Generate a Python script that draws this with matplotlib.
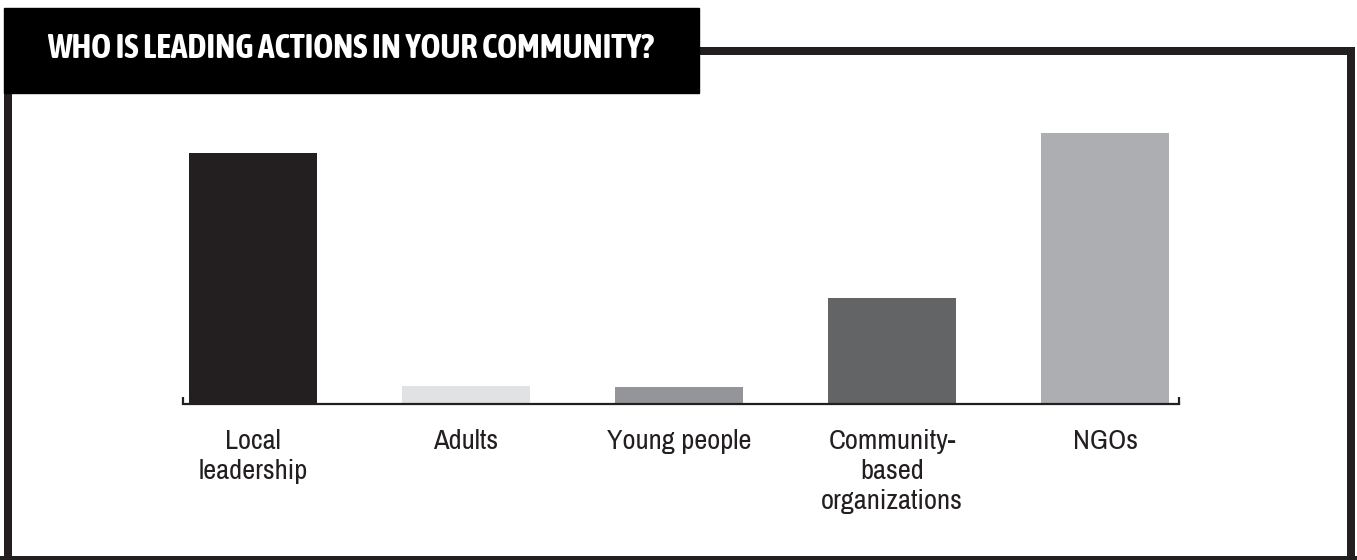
import matplotlib.pyplot as plt
from matplotlib import font_manager as fm
from matplotlib.patches import Rectangle
from matplotlib.lines import Line2D

groups = ["Local\nleadership", "Adults", "Young people",
          "Community-\nbased\norganizations", "NGOs"]
shares = [37.0, 2.7, 2.5, 15.6, 40.0]
bar_colors = ["#231f20", "#e1e2e3", "#939598", "#636466", "#adaeb1"]
title = "WHO IS LEADING ACTIONS IN YOUR COMMUNITY?"

W, H = 1357, 560
ink = "#231f20"


def _weight(f):
    w = f.weight
    if isinstance(w, str):
        w = fm.weight_dict.get(w, 400)
    return w


def narrow_font(bold):
    # pick a condensed/narrow face if one is installed, else Roboto
    picks = []
    for f in fm.fontManager.ttflist:
        label = (f.name + " " + str(f.stretch)).lower()
        if f.style != "normal" or "mono" in label:
            continue
        if "condensed" in label or "narrow" in label:
            picks.append((abs(_weight(f) - (700 if bold else 400)), f.name, f.fname))
    if picks:
        picks.sort()
        return fm.FontProperties(fname=picks[0][2]), True
    return fm.FontProperties(family=["Roboto", "DejaVu Sans"],
                             weight="bold" if bold else "normal"), False


title_font, _ = narrow_font(True)
label_font, label_narrow = narrow_font(False)

fig = plt.figure(figsize=(W / 100, H / 100), dpi=100)


def fx(px):
    return px / W


def fy(py):
    return 1 - py / H


# outer frame
lw_frame = 8 * 72 / 100
fig.add_artist(Line2D([fx(8), fx(8)], [fy(40), fy(565)], color=ink, lw=lw_frame))
fig.add_artist(Line2D([fx(690), fx(1355)], [fy(51), fy(51)], color=ink, lw=lw_frame,
                      solid_capstyle="butt"))
fig.add_artist(Line2D([fx(1351), fx(1351)], [fy(47), fy(565)], color=ink, lw=lw_frame,
                      solid_capstyle="butt"))
fig.add_artist(Line2D([fx(0), fx(1357)], [fy(559.5), fy(559.5)], color=ink, lw=lw_frame))

# title banner
fig.add_artist(Rectangle((fx(4), fy(93)), fx(699) - fx(4), fy(8) - fy(93),
                         transform=fig.transFigure, color="black", zorder=5))
title_font.set_size(23)
t = fig.text(fx(47), fy(49), title, color="white", fontproperties=title_font,
             va="center", ha="left", zorder=6)

# scale the title so it runs to the same width as the banner text block
renderer = fig.canvas.get_renderer()
width = t.get_window_extent(renderer).width
title_font.set_size(min(23 * 607 / width, 26))
t.set_fontproperties(title_font)

# bar chart
base_px, top_px = 404, 133
ymax = 45
ax_h = (base_px - top_px) / max(shares) * ymax
ax = fig.add_axes([fx(183), fy(base_px), fx(1179) - fx(183), ax_h / H])

x = range(len(groups))
ax.bar(x, shares, width=0.6, color=bar_colors, zorder=1)
ax.set_xlim(-0.329, 4.347)
ax.set_ylim(0, ymax)

for side in ["top", "right", "left"]:
    ax.spines[side].set_visible(False)
ax.spines["bottom"].set_color(ink)
ax.spines["bottom"].set_linewidth(1.6)
ax.spines["bottom"].set_zorder(3)
ax.set_yticks([])

# small end ticks on the baseline
tick_h = 7 / ax_h
for xe in (0, 1):
    ax.plot([xe, xe], [0, tick_h], transform=ax.transAxes, color=ink, lw=1.6,
            clip_on=False, solid_capstyle="butt", zorder=3)

label_font.set_size(20.5 if label_narrow else 17)
ax.set_xticks(list(x))
ax.set_xticklabels(groups, fontproperties=label_font, color=ink,
                   linespacing=1.25, va="top")
ax.tick_params(axis="x", length=0, pad=18)

fig.savefig("out.png", dpi=100)
